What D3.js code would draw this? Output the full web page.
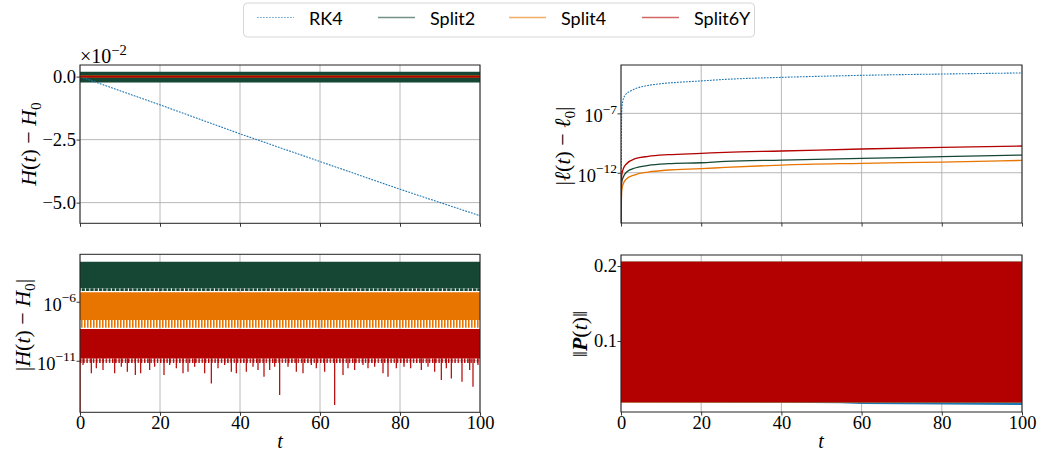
<!DOCTYPE html>
<html>
<head>
<meta charset="utf-8">
<script src="https://cdn.jsdelivr.net/npm/d3@7"></script>
<style>
  body { margin: 0; background: #fff; }
  svg { display: block; }
</style>
</head>
<body>
<svg id="fig" width="1038" height="453"></svg>
<script>
// ---- shared time axis and method names ----
const timeTicks = [0, 20, 40, 60, 80, 100];
const methods = ["RK4", "Split2", "Split4", "Split6Y"];

// ---- H(t) - H0, in units of 1e-2 ----
const energyTicks = [0, -2.5, -5.0];
const energyRK4 = [[0, 0], [20, -1.12], [40, -2.27], [60, -3.37], [80, -4.47], [100, -5.52]];
// [t, min, max] of the fast oscillation
const energySplit2 = [[0, -0.23, 0.19], [100, -0.23, 0.19]];
const energySplit4 = [[0, 0], [100, 0]];
const energySplit6Y = [[0, 0], [100, 0]];

// ---- |H(t) - H0| as log10 values: [t, lowest teeth, lower edge, upper edge] ----
const absEnergyTicks = [-6, -11];
const absEnergySplit2 = [[0, -5.09, -4.86, -2.61], [100, -5.09, -4.86, -2.61]];
const absEnergySplit4 = [[0, -8.2, -7.55, -5.2], [100, -8.2, -7.55, -5.2]];
const absEnergySplit6Y = [[0, -11.2, -10.8, -8.31], [100, -11.2, -10.8, -8.31]];
// deepest dips of the Split6Y error, [t, log10 value]; the error starts at zero
const absEnergySplit6YDips = [
  [0, -17], [0.75, -11.36], [2.83, -12.07], [4.08, -11.64], [5.75, -11.79], [8.67, -12.07],
  [10.33, -11.5], [11.83, -11.93], [13.83, -12.21], [15.17, -12.07], [17.42, -11.79],
  [18.67, -11.5], [21, -12.21], [22.42, -11.36], [24.08, -11.64], [25.75, -12.07], [27, -11.93],
  [28.67, -11.5], [31.17, -12.07], [32.83, -12.92], [34.5, -11.64], [36.17, -11.36],
  [37.83, -11.93], [39.08, -12.07], [41.58, -11.93], [43.25, -11.5], [44.5, -11.79], [46, -12.35],
  [47.42, -11.79], [48.67, -11.5], [49.92, -13.9], [52, -11.5], [54.08, -11.93], [55.75, -12.07],
  [57.83, -11.36], [59.08, -11.64], [61.17, -11.93], [63.67, -14.75], [65.75, -12.21],
  [67, -11.64], [68.67, -11.79], [70.75, -11.36], [72, -11.64], [73.67, -11.5], [75.75, -12.07],
  [77, -12.35], [79.08, -11.64], [81, -11.5], [82.67, -11.64], [85.33, -11.79], [87, -11.5],
  [88.67, -11.93], [90.33, -12.64], [91.58, -11.64], [92.83, -12.5], [95.5, -12.78],
  [97.42, -11.79], [98.25, -13.2], [99.5, -11.36]
];

// ---- |l(t) - l0| as log10 values: [t, log10 value]; zero at t = 0 ----
const angularTicks = [-7, -12];
const angularRK4 = [[0, -17], [0.17, -6.89], [0.33, -6.19], [1, -5.48], [2.24, -5.15], [3.5, -4.93],
  [6, -4.7], [9.3, -4.53], [15, -4.37], [20, -4.27], [26, -4.14], [40, -3.97], [60, -3.8],
  [80, -3.69], [100, -3.6]];
const angularSplit2 = [[0, -17], [0.17, -12.78], [0.58, -12.36], [1.4, -11.94], [3.5, -11.6],
  [6.8, -11.38], [11.8, -11.24], [20, -11.16], [26, -11.04], [40, -10.93], [60, -10.79],
  [80, -10.65], [100, -10.51]];
const angularSplit4 = [[0, -17], [0.17, -13.48], [0.58, -12.93], [1.4, -12.5], [3.5, -12.17],
  [6.8, -11.94], [11.8, -11.77], [20, -11.66], [26, -11.55], [40, -11.35], [60, -11.21],
  [80, -11.1], [100, -10.96]];
const angularSplit6Y = [[0, -17], [0.17, -12.22], [0.58, -11.66], [1.4, -11.24], [3.5, -10.82],
  [6.8, -10.62], [11.8, -10.48], [20, -10.37], [26, -10.28], [40, -10.17], [60, -10.0],
  [80, -9.86], [100, -9.75]];

// ---- ||P(t)||: [t, min, max] of the oscillation ----
const momentumTicks = [0.1, 0.2];
const momentumRK4 = [[0, 0.0183, 0.2057], [20, 0.0181, 0.2057], [40, 0.0176, 0.2057],
  [55, 0.0170, 0.2057], [60, 0.0160, 0.2057], [80, 0.0152, 0.2057], [100, 0.0147, 0.2057]];
const momentumSplit2 = [[0, 0.0183, 0.2057], [100, 0.0183, 0.2057]];
const momentumSplit4 = [[0, 0.0179, 0.2057], [100, 0.0179, 0.2057]];
const momentumSplit6Y = [[0, 0.0183, 0.2057], [100, 0.0183, 0.2057]];

// ---- styling ----
const colors = { RK4: "#1f77b4", Split2: "#154734", Split4: "#e87500", Split6Y: "#b30000" };
const serif = "'Liberation Serif', 'DejaVu Serif', serif";
const sans = "Lato, 'Open Sans', sans-serif";
const lw = 1.3;

const box = {
  tl: { left: 80, right: 480, top: 65, bottom: 223.3 },
  bl: { left: 80, right: 480, top: 254.3, bottom: 412.3 },
  tr: { left: 621, right: 1022, top: 65, bottom: 223 },
  br: { left: 621, right: 1022, top: 255, bottom: 412 }
};

const svg = d3.select("#fig");
const defs = svg.append("defs");
const p10 = e => Math.pow(10, e);
const minus = s => String(s).replace("-", "\u2212");

// striped fills for the ragged lower edges of the dense oscillation bands
function stripePattern(id, color, period, filled) {
  const p = defs.append("pattern").attr("id", id).attr("patternUnits", "userSpaceOnUse")
    .attr("width", period).attr("height", 20);
  p.append("rect").attr("width", filled).attr("height", 20).attr("fill", color);
}
stripePattern("teeth-Split2", colors.Split2, 4.3, 3.3);
stripePattern("teeth-Split4", colors.Split4, 3.0, 1.6);
stripePattern("teeth-Split6Y", colors.Split6Y, 3.2, 1.4);

function panel(key, x, yPos, yGridVals) {
  const b = box[key];
  defs.append("clipPath").attr("id", "clip-" + key).append("rect")
    .attr("x", b.left).attr("y", b.top).attr("width", b.right - b.left).attr("height", b.bottom - b.top);
  const g = svg.append("g");
  const grid = g.append("g").attr("stroke", "#b0b0b0").attr("stroke-width", 0.9);
  grid.selectAll("line.gv").data(timeTicks).join("line").attr("class", "gv")
    .attr("x1", d => x(d)).attr("x2", d => x(d)).attr("y1", b.top).attr("y2", b.bottom);
  grid.selectAll("line.gh").data(yGridVals).join("line").attr("class", "gh")
    .attr("x1", b.left).attr("x2", b.right).attr("y1", d => yPos(d)).attr("y2", d => yPos(d));
  const plot = g.append("g").attr("clip-path", `url(#clip-${key})`);
  return { g, plot, b };
}

function styleAxis(ag) {
  ag.attr("font-family", serif).attr("font-size", 18);
  ag.selectAll(".domain").remove();
  ag.selectAll(".tick line").attr("stroke", "#222").attr("stroke-width", 0.9);
  ag.selectAll(".tick text").attr("fill", "#000").attr("font-family", serif).attr("font-size", 18.5);
}

function frame(p) {
  const b = p.b;
  p.g.append("rect").attr("x", b.left).attr("y", b.top)
    .attr("width", b.right - b.left).attr("height", b.bottom - b.top)
    .attr("fill", "none").attr("stroke", "#222").attr("stroke-width", 1);
}

function xAxis(p, x, labels) {
  const ag = p.g.append("g").attr("transform", `translate(0,${p.b.bottom})`)
    .call(d3.axisBottom(x).tickValues(timeTicks).tickSize(3.5).tickSizeOuter(0).tickPadding(0.5)
      .tickFormat(labels ? d3.format("d") : () => ""));
  styleAxis(ag);
}

function logLabels(ag) {
  ag.selectAll(".tick text").each(function (d) {
    const t = d3.select(this);
    const e = Math.round(Math.log10(d));
    t.text(null).attr("dy", "0.45em");
    t.append("tspan").text("10");
    t.append("tspan").attr("dy", "-0.62em").attr("font-size", "13.5px").text(minus(e));
  });
}

// rich text helper: parts of [text, style]
function rich(sel, parts, size) {
  parts.forEach(([txt, st]) => {
    const ts = sel.append("tspan").text(txt);
    if (st && st.includes("i")) ts.attr("font-style", "italic");
    if (st && st.includes("b")) ts.attr("font-weight", "bold");
    if (st && st.includes("s")) ts.attr("font-size", size * 0.7).attr("dy", size * 0.22);
    if (st && st.includes("r")) ts.attr("dy", -size * 0.22);
  });
}

function yLabel(xBase, yCenter, parts) {
  const size = 22;
  const t = svg.append("text").attr("transform", `translate(${xBase},${yCenter}) rotate(-90)`)
    .attr("text-anchor", "middle").attr("font-family", serif).attr("font-size", size).attr("fill", "#000");
  rich(t, parts, size);
}

function xLabel(xc) {
  svg.append("text").attr("x", xc).attr("y", 448).attr("text-anchor", "middle")
    .attr("font-family", serif).attr("font-size", 20).attr("font-style", "italic").text("t");
}

// ================= top-left: H(t) - H0 =================
{
  const x = d3.scaleLinear([0, 100], [box.tl.left, box.tl.right]);
  const y = d3.scaleLinear([-5.82, 0.46], [box.tl.bottom, box.tl.top]);
  const p = panel("tl", x, y, energyTicks);
  p.plot.append("path").datum(energySplit2)
    .attr("d", d3.area().x(d => x(d[0])).y0(d => y(d[1])).y1(d => y(d[2])))
    .attr("fill", colors.Split2);
  const line = d3.line().x(d => x(d[0])).y(d => y(d[1]));
  p.plot.append("path").datum(energyRK4).attr("d", line).attr("fill", "none")
    .attr("stroke", colors.RK4).attr("stroke-width", 1.1).attr("stroke-dasharray", "1.8,1.2");
  p.plot.append("path").datum(energySplit4).attr("d", line).attr("fill", "none")
    .attr("stroke", colors.Split4).attr("stroke-width", 2);
  p.plot.append("path").datum(energySplit6Y).attr("d", line).attr("fill", "none")
    .attr("stroke", colors.Split6Y).attr("stroke-width", 1.8);
  frame(p);
  xAxis(p, x, false);
  const ag = p.g.append("g").attr("transform", `translate(${box.tl.left},0)`)
    .call(d3.axisLeft(y).tickValues(energyTicks).tickSize(3.5).tickPadding(0.5).tickFormat(d3.format(".1f")));
  styleAxis(ag);
  // offset text of the scaled axis
  const off = svg.append("text").attr("x", 80).attr("y", 63).attr("font-family", serif)
    .attr("font-size", 20).attr("fill", "#000");
  off.append("tspan").text("\u00d710");
  off.append("tspan").attr("dy", -8).attr("font-size", 14.5).text("\u22122");
  yLabel(36, 144, [["H", "i"], ["("], ["t", "i"], [") \u2212 "], ["H", "i"], ["0", "s"]]);
}

// ================= bottom-left: |H(t) - H0| =================
{
  const x = d3.scaleLinear([0, 100], [box.bl.left, box.bl.right]);
  const y = d3.scaleLog([p10(-15.37), p10(-1.98)], [box.bl.bottom, box.bl.top]);
  const p = panel("bl", x, y, absEnergyTicks.map(p10));
  const series = [["Split2", absEnergySplit2], ["Split4", absEnergySplit4], ["Split6Y", absEnergySplit6Y]];
  series.forEach(([name, data]) => {
    p.plot.append("path").datum(data)
      .attr("d", d3.area().x(d => x(d[0])).y0(d => y(p10(d[1]))).y1(d => y(p10(d[2]))))
      .attr("fill", `url(#teeth-${name})`);
    p.plot.append("path").datum(data)
      .attr("d", d3.area().x(d => x(d[0])).y0(d => y(p10(d[2]))).y1(d => y(p10(d[3]))))
      .attr("fill", colors[name]);
  });
  const base = absEnergySplit6Y[0][2];
  p.plot.selectAll("line.dip").data(absEnergySplit6YDips).join("line").attr("class", "dip")
    .attr("x1", d => x(d[0])).attr("x2", d => x(d[0]))
    .attr("y1", y(p10(base))).attr("y2", d => y(p10(d[1])))
    .attr("stroke", colors.Split6Y).attr("stroke-width", 1.2);
  frame(p);
  xAxis(p, x, true);
  const ag = p.g.append("g").attr("transform", `translate(${box.bl.left},0)`)
    .call(d3.axisLeft(y).tickValues(absEnergyTicks.map(p10)).tickSize(3.5).tickPadding(0.5));
  styleAxis(ag);
  logLabels(ag);
  yLabel(30, 325, [["|"], ["H", "i"], ["("], ["t", "i"], [") \u2212 "], ["H", "i"], ["0", "s"], ["|", "r"]]);
  xLabel(280);
}

// ================= top-right: |l(t) - l0| =================
{
  const x = d3.scaleLinear([0, 100], [box.tr.left, box.tr.right]);
  const y = d3.scaleLog([p10(-16.23), p10(-2.93)], [box.tr.bottom, box.tr.top]);
  const p = panel("tr", x, y, angularTicks.map(p10));
  const line = d3.line().x(d => x(d[0])).y(d => y(p10(d[1]))).curve(d3.curveMonotoneX);
  const series = [["RK4", angularRK4], ["Split2", angularSplit2], ["Split4", angularSplit4], ["Split6Y", angularSplit6Y]];
  series.forEach(([name, data]) => {
    p.plot.append("path").datum(data).attr("d", line).attr("fill", "none")
      .attr("stroke", colors[name]).attr("stroke-width", name === "RK4" ? 1.1 : lw)
      .attr("stroke-dasharray", name === "RK4" ? "1.8,1.2" : null);
  });
  frame(p);
  xAxis(p, x, false);
  const ag = p.g.append("g").attr("transform", `translate(${box.tr.left},0)`)
    .call(d3.axisLeft(y).tickValues(angularTicks.map(p10)).tickSize(3.5).tickPadding(0.5));
  styleAxis(ag);
  logLabels(ag);
  yLabel(570, 146, [["|"], ["\u2113", "i"], ["("], ["t", "i"], [") \u2212 "], ["\u2113", "i"], ["0", "s"], ["|", "r"]]);
}

// ================= bottom-right: ||P(t)|| =================
{
  const x = d3.scaleLinear([0, 100], [box.br.left, box.br.right]);
  const y = d3.scaleLinear([0.0053, 0.2147], [box.br.bottom, box.br.top]);
  const p = panel("br", x, y, momentumTicks);
  const area = d3.area().x(d => x(d[0])).y0(d => y(d[1])).y1(d => y(d[2]));
  const series = [["RK4", momentumRK4], ["Split2", momentumSplit2], ["Split4", momentumSplit4], ["Split6Y", momentumSplit6Y]];
  series.forEach(([name, data]) => {
    p.plot.append("path").datum(data).attr("d", area).attr("fill", colors[name]);
  });
  frame(p);
  xAxis(p, x, true);
  const ag = p.g.append("g").attr("transform", `translate(${box.br.left},0)`)
    .call(d3.axisLeft(y).tickValues(momentumTicks).tickSize(3.5).tickPadding(0.5).tickFormat(d3.format(".1f")));
  styleAxis(ag);
  yLabel(587, 334, [["\u2016"], ["P", "ib"], ["("], ["t", "i"], [")\u2016"]]);
  xLabel(821);
}

// ================= legend =================
{
  const lg = svg.append("g");
  lg.append("rect").attr("x", 243.5).attr("y", 3).attr("width", 511).attr("height", 34).attr("rx", 4)
    .attr("fill", "#fff").attr("stroke", "#d6d6d6").attr("stroke-width", 1);
  const sampleX = [257, 378, 509, 642];
  const items = lg.selectAll("g.item").data(methods).join("g").attr("class", "item")
    .attr("transform", (d, i) => `translate(${sampleX[i]},0)`);
  items.append("line").attr("x1", 0).attr("x2", 37).attr("y1", 17.5).attr("y2", 17.5)
    .attr("stroke", d => colors[d]).attr("stroke-opacity", 0.6)
    .attr("stroke-width", d => d === "RK4" ? 1.1 : lw)
    .attr("stroke-dasharray", d => d === "RK4" ? "1.8,1.2" : null);
  items.append("text").attr("x", 52).attr("y", 25).attr("font-family", sans).attr("font-size", 18)
    .attr("fill", "#000").text(d => d);
}
</script>
</body>
</html>
